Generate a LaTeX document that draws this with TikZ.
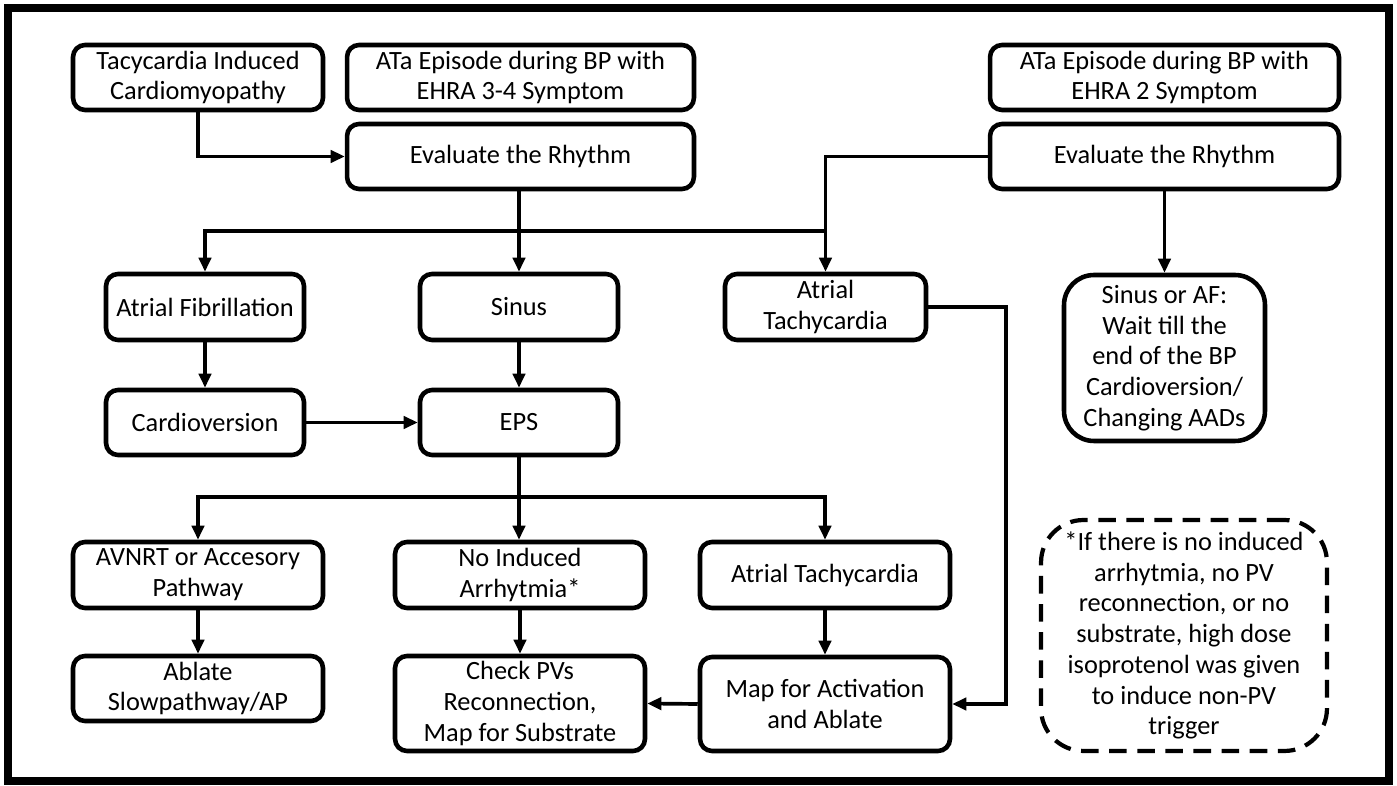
\documentclass[tikz,border=0pt]{standalone}
\usepackage{fontspec}
\setmainfont{Carlito}
\usetikzlibrary{arrows.meta}
\newcommand{\boxfont}{\fontsize{15}{17.5}\selectfont}

\begin{document}
\begin{tikzpicture}[
  x=0.02cm,
  y=-0.02cm,
  every node/.style={font=\boxfont, align=center, inner sep=2pt},
  box/.style={draw, line width=2.6pt, rounded corners=0.24cm},
  flow/.style={line width=2.1pt, -{Triangle[length=8pt, width=7pt]}},
  link/.style={line width=2.1pt},
  note/.style={draw, line width=2.4pt, rounded corners=0.85cm,
    dash pattern=on 10pt off 6pt}
]
  % ---- page and outer frame ----
  \path (0,0) rectangle (1397,786);
  \draw[line width=4.5pt] (8,8) rectangle (1389,781);

  % ---- top row ----
  \node[box, minimum width=5cm, minimum height=1.3cm] (tic) at (198,77.5)
    {Tacycardia Induced\\Cardiomyopathy};
  \node[box, minimum width=6.94cm, minimum height=1.3cm] (ataL) at (520.5,77.5)
    {ATa Episode during BP with\\EHRA 3-4 Symptom};
  \node[box, minimum width=6.94cm, minimum height=1.3cm] (evalL) at (520.5,156.5)
    {Evaluate the Rhythm};
  \node[box, minimum width=6.98cm, minimum height=1.3cm] (ataR) at (1164.5,77.5)
    {ATa Episode during BP with\\EHRA 2 Symptom};
  \node[box, minimum width=6.98cm, minimum height=1.3cm] (evalR) at (1164.5,156.5)
    {Evaluate the Rhythm};

  % ---- rhythm ----
  \node[box, minimum width=3.96cm, minimum height=1.32cm] (af) at (205,307)
    {Atrial Fibrillation};
  \node[box, minimum width=3.96cm, minimum height=1.32cm] (sinus) at (519,307)
    {Sinus};
  \node[box, minimum width=4.02cm, minimum height=1.32cm] (atTop) at (825.5,307)
    {Atrial\\Tachycardia};
  \node[box, rounded corners=0.6cm, minimum width=4.02cm, minimum height=3.32cm]
    (wait) at (1164.5,358)
    {Sinus or AF:\\Wait till the\\end of the BP\\Cardioversion/\\Changing AADs};

  \node[box, minimum width=3.96cm, minimum height=1.3cm] (cardio) at (205,422.5)
    {Cardioversion};
  \node[box, minimum width=3.96cm, minimum height=1.3cm] (eps) at (519,422.5)
    {EPS};

  % ---- EPS outcomes ----
  \node[box, minimum width=5cm, minimum height=1.32cm] (avnrt) at (198,575)
    {AVNRT or Accesory\\Pathway};
  \node[box, minimum width=5cm, minimum height=1.32cm] (noind) at (520,575)
    {No Induced\\Arrhytmia*};
  \node[box, minimum width=5cm, minimum height=1.32cm] (atBot) at (825,575)
    {Atrial Tachycardia};
  \node[box, minimum width=5cm, minimum height=1.3cm] (ablate) at (198,688.5)
    {Ablate\\Slowpathway/AP};
  \node[box, minimum width=5cm, minimum height=1.9cm] (check) at (520,703.5)
    {Check PVs\\Reconnection,\\Map for Substrate};
  \node[box, minimum width=5cm, minimum height=1.88cm] (mapact) at (825,704)
    {Map for Activation\\and Ablate};

  % ---- footnote ----
  \node[note, minimum width=5.72cm, minimum height=4.62cm] (fn) at (1184,635.5)
    {*If there is no induced\\arrhytmia, no PV\\reconnection, or no\\substrate, high dose\\isoprotenol was given\\to induce non-PV\\trigger};

  % ---- branch points ----
  \coordinate (splitA) at (519,231);
  \coordinate (splitB) at (519,497);
  \coordinate (bend) at (1006,500);

  % ---- connectors ----
  \draw[flow] (tic.south) |- (evalL.west);
  \draw[flow] (evalL.south -| sinus.north) -- (sinus.north);
  \draw[flow] (splitA) -| (af.north);
  \draw[link] (splitA) -- (splitA -| atTop.north);
  \draw[flow] (evalR.west) -| (atTop.north);
  \draw[flow] (evalR.south) -- (wait.north);

  \draw[flow] (af.south) -- (cardio.north);
  \draw[flow] (sinus.south) -- (eps.north);
  \draw[flow] (cardio.east) -- (eps.west);

  \draw[flow] (eps.south) -- (eps.south |- noind.north);
  \draw[flow] (splitB) -| (avnrt.north);
  \draw[flow] (splitB) -| (atBot.north);
  \draw[flow] (atTop.east) -| (bend) |- (mapact.east);

  \draw[flow] (avnrt.south) -- (ablate.north);
  \draw[flow] (noind.south) -- (check.north);
  \draw[flow] (atBot.south) -- (mapact.north);
  \draw[flow] (mapact.west) -- (check.east);
\end{tikzpicture}
\end{document}
